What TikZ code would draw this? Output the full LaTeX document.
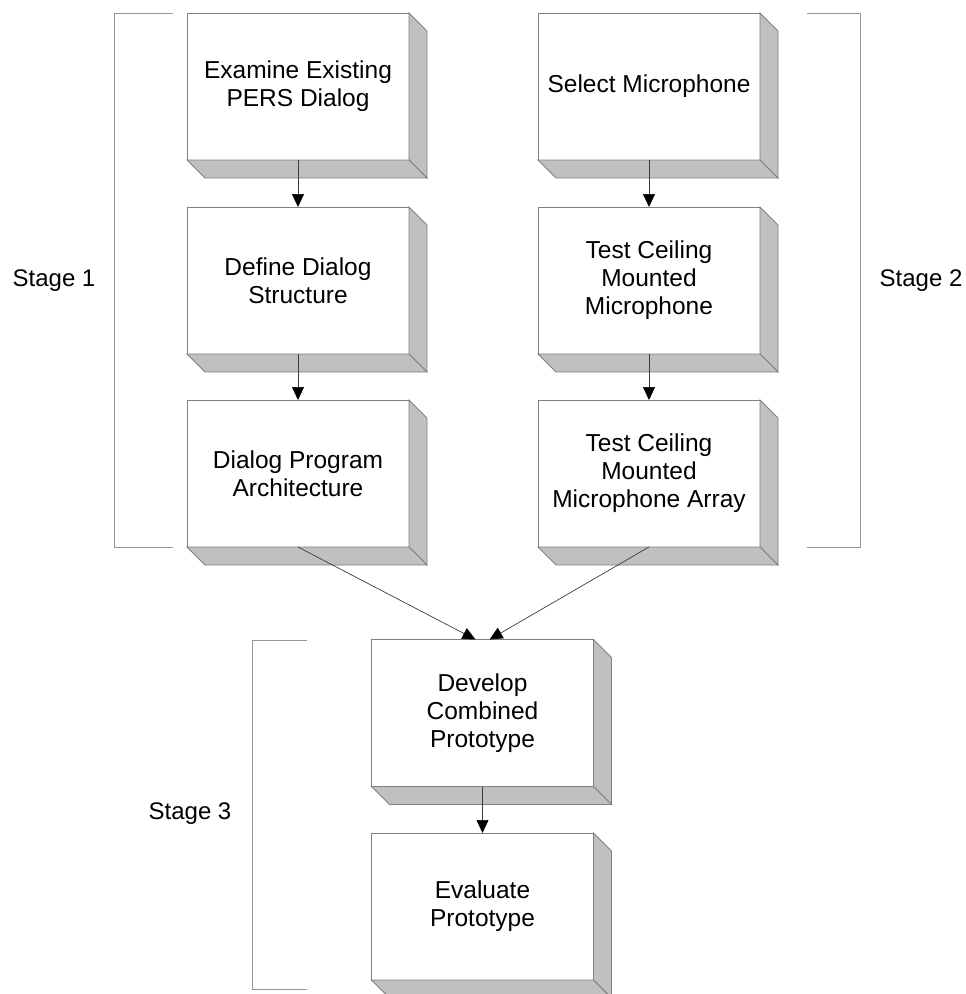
\documentclass[tikz,border=0pt]{standalone}
\usepackage{fontspec}
\setmainfont{Liberation Sans}
\usetikzlibrary{calc,arrows.meta}

\definecolor{edgegray}{RGB}{128,128,128}
\definecolor{facegray}{RGB}{192,192,192}
\definecolor{bracketgray}{RGB}{150,150,150}
\definecolor{linkgray}{RGB}{60,60,60}

\tikzset{
  block/.style={draw=edgegray, fill=white, line width=0.9pt,
    minimum width=222pt, minimum height=147pt, inner sep=0pt, outer sep=0pt,
    align=center, font=\fontsize{24.5}{28}\selectfont},
  face/.style={draw=edgegray, fill=facegray, line width=0.9pt, line join=miter},
  link/.style={draw=linkgray, line width=0.7pt,
    -{Triangle[length=13pt,width=12pt,color=black]}},
  bracket/.style={draw=bracketgray, line width=1pt},
  stagelabel/.style={font=\fontsize{24}{28}\selectfont, inner sep=0pt}
}

\begin{document}
\begin{tikzpicture}[x=1pt, y=-1pt]
  \useasboundingbox (0,0) rectangle (966,994);

  % process steps (front faces)
  \node[block] (examine)  at (298,86.5)   {Examine Existing\\PERS Dialog};
  \node[block] (define)   at (298,280.5)  {Define Dialog\\Structure};
  \node[block] (dialog)   at (298,473.5)  {Dialog Program\\Architecture};
  \node[block] (select)   at (649,86.5)   {Select Microphone};
  \node[block] (ceiling)  at (649,280.5)  {Test Ceiling\\Mounted\\Microphone};
  \node[block] (array)    at (649,473.5)  {Test Ceiling\\Mounted\\Microphone Array};
  \node[block] (develop)  at (482.5,713)  {Develop\\Combined\\Prototype};
  \node[block] (evaluate) at (482.5,906.5){Evaluate\\Prototype};

  % extruded side and bottom faces
  \foreach \n in {examine,define,dialog,select,ceiling,array,develop,evaluate}{
    \filldraw[face] (\n.north east) -- ++(18,18)
      -- ($(\n.south east)+(18,18)$) -- (\n.south east) -- cycle;
    \filldraw[face] (\n.south west) -- (\n.south east)
      -- ++(18,18) -- ($(\n.south west)+(18,18)$) -- cycle;
  }

  % connectors
  \draw[link] (examine.south) -- (define.north);
  \draw[link] (define.south)  -- (dialog.north);
  \draw[link] (select.south)  -- (ceiling.north);
  \draw[link] (ceiling.south) -- (array.north);
  \draw[link] (dialog.south)  -- ([xshift=-7pt]develop.north);
  \draw[link] (array.south)   -- ([xshift=7pt]develop.north);
  \draw[link] (develop.south) -- (evaluate.north);

  % stage brackets
  \draw[bracket] (173,13) -- (114,13) -- (114,547) -- (173,547);
  \draw[bracket] (807,13) -- (860,13) -- (860,547) -- (807,547);
  \draw[bracket] (307,640) -- (252,640) -- (252,989) -- (307,989);

  \node[stagelabel] (s1) at (54,281)  {Stage 1};
  \node[stagelabel] (s2) at (921,281) {Stage 2};
  \node[stagelabel] (s3) at (190,814) {Stage 3};
\end{tikzpicture}
\end{document}
